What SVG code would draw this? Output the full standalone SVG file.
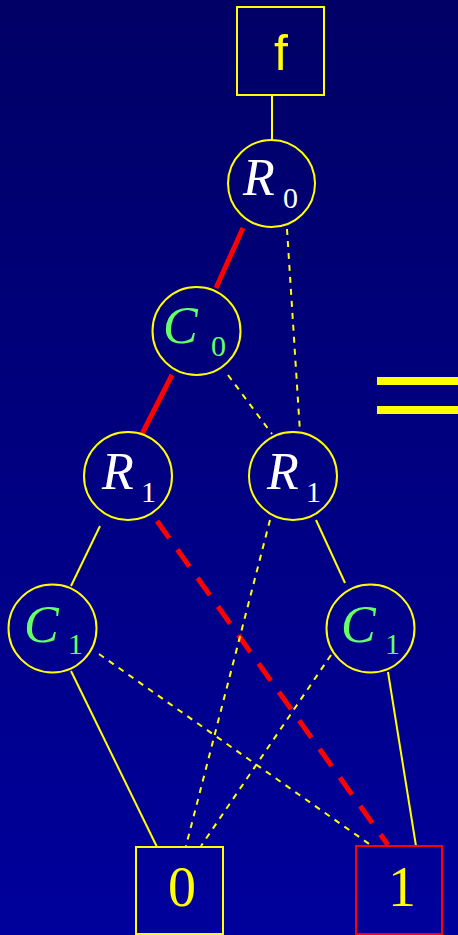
<svg xmlns="http://www.w3.org/2000/svg" width="458" height="935" viewBox="0 0 458 935">
<defs>
<linearGradient id="bg" x1="0" y1="0" x2="0" y2="1">
<stop offset="0" stop-color="#000066"/>
<stop offset="1" stop-color="#00009c"/>
</linearGradient>
<style>
.node{fill:none;stroke:#ffff00;stroke-width:2}
.solid{stroke:#ffff00;stroke-width:2;fill:none}
.dash{stroke:#ffff00;stroke-width:2;stroke-dasharray:6 6;fill:none}
.red{stroke:#ff0000;stroke-width:5;fill:none}
.reddash{stroke:#ff0000;stroke-width:5;stroke-dasharray:21 14;fill:none}
.var{font-family:"Liberation Serif","Times New Roman",serif;font-style:italic;font-size:52px}
.sub{font-family:"Liberation Serif","Times New Roman",serif;font-size:30px}
.r{fill:#ffffff}
.c{fill:#66ff66}
.term{font-family:"Liberation Serif","Times New Roman",serif;font-size:56px;fill:#ffff00;text-anchor:middle}
</style>
</defs>
<rect width="458" height="935" fill="url(#bg)"/>
<g id="connectors">
<line class="solid" x1="272" y1="95" x2="272" y2="139"/>
<line class="red" x1="243" y1="228" x2="216" y2="288"/>
<line class="dash" x1="287" y1="229" x2="300" y2="432"/>
<line class="red" x1="172" y1="375" x2="142" y2="434"/>
<line class="dash" x1="228" y1="375" x2="272" y2="434"/>
<line class="solid" x1="100" y1="526" x2="71" y2="586"/>
<line class="reddash" x1="157" y1="521" x2="388" y2="845"/>
<line class="dash" x1="270" y1="520" x2="186" y2="846"/>
<line class="solid" x1="316" y1="520" x2="345" y2="583"/>
<line class="solid" x1="71" y1="671" x2="157" y2="847"/>
<line class="dash" x1="99" y1="654" x2="372" y2="846"/>
<line class="dash" x1="331" y1="655" x2="201" y2="846"/>
<line class="solid" x1="388" y1="672" x2="416" y2="846"/>
</g>
<g id="f">
<rect class="node" x="237" y="7" width="87" height="88"/>
<text x="281" y="70" font-family="Liberation Sans, Arial, sans-serif" font-size="50" fill="#ffff00" text-anchor="middle">f</text>
</g>
<g id="R0">
<circle class="node" cx="271.5" cy="183.5" r="43.5"/>
<text class="var r" x="243" y="195">R</text>
<text class="sub r" x="283" y="208">0</text>
</g>
<g id="C0">
<circle class="node" cx="196.5" cy="331" r="44"/>
<text class="var c" x="163" y="343">C</text>
<text class="sub c" x="211" y="356">0</text>
</g>
<g id="R1a">
<circle class="node" cx="128" cy="476" r="44"/>
<text class="var r" x="102" y="489">R</text>
<text class="sub r" x="141" y="502">1</text>
</g>
<g id="R1b">
<circle class="node" cx="293" cy="476" r="44"/>
<text class="var r" x="267" y="489">R</text>
<text class="sub r" x="306" y="502">1</text>
</g>
<g id="C1a">
<circle class="node" cx="52.5" cy="628.5" r="44"/>
<text class="var c" x="24" y="642">C</text>
<text class="sub c" x="68" y="654">1</text>
</g>
<g id="C1b">
<circle class="node" cx="370.5" cy="628.5" r="44"/>
<text class="var c" x="341" y="642">C</text>
<text class="sub c" x="385" y="654">1</text>
</g>
<g id="T0">
<rect class="node" x="136" y="847" width="87" height="87"/>
<text class="term" x="182" y="906">0</text>
</g>
<g id="T1">
<rect x="356" y="846" width="86" height="88" fill="none" stroke="#ff0000" stroke-width="2"/>
<text class="term" x="402" y="906">1</text>
</g>
<g id="equals">
<rect x="377" y="377" width="81" height="8" fill="#ffff00"/>
<rect x="377" y="406" width="81" height="8" fill="#ffff00"/>
</g>
</svg>
